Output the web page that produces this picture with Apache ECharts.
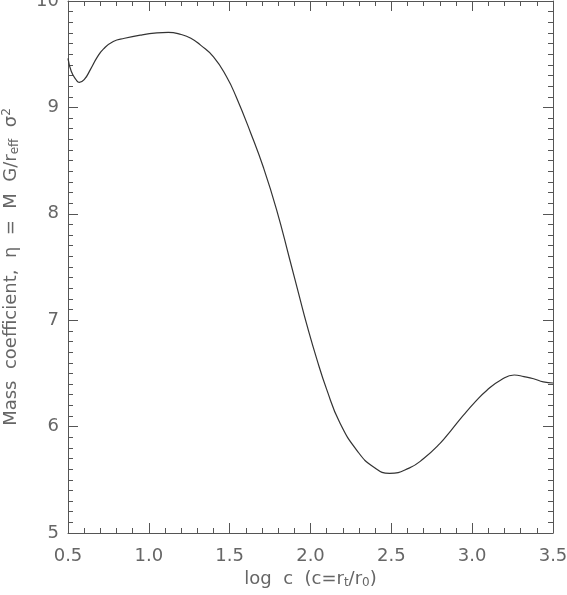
<!DOCTYPE html>
<html>
<head>
<meta charset="utf-8">
<script src="https://cdn.jsdelivr.net/npm/echarts@6/dist/echarts.min.js"></script>
<style>
  html, body { margin: 0; padding: 0; background: #fff; }
  #main { width: 567px; height: 595px; }
</style>
</head>
<body>
<div id="main"></div>
<script>
// log c values and mass coefficient eta
var logC = [0.50, 0.52, 0.55, 0.57, 0.60, 0.64, 0.68, 0.72, 0.78, 0.85,
            0.95, 1.05, 1.12, 1.20, 1.26, 1.32, 1.40, 1.48, 1.54, 1.63,
            1.71, 1.79, 1.87, 1.935, 1.975, 2.04, 2.10, 2.18, 2.29, 2.39,
            2.49, 2.61, 2.70, 2.80, 2.87, 2.945, 3.02, 3.09, 3.18, 3.26,
            3.32, 3.38, 3.44, 3.50];
var eta  = [9.46, 9.34, 9.26, 9.235, 9.26, 9.36, 9.47, 9.55, 9.62, 9.65,
            9.68, 9.70, 9.705, 9.685, 9.65, 9.585, 9.475, 9.29, 9.10, 8.76,
            8.43, 8.04, 7.58, 7.20, 6.97, 6.63, 6.35, 6.04, 5.77, 5.62,
            5.56, 5.61, 5.70, 5.84, 5.965, 6.105, 6.235, 6.34, 6.44, 6.485,
            6.47, 6.45, 6.42, 6.41];

var points = logC.map(function (x, i) { return [x, eta[i]]; });

var axisCol = '#555';
var textCol = '#666';
var font = 'DejaVu Sans';

var myChart = echarts.init(document.getElementById('main'), null, {renderer: 'canvas'});

function xAxisCfg(pos, showLabel) {
    return {
        type: 'value', position: pos, min: 0.5, max: 3.5, interval: 0.5,
        axisLine: { show: true, onZero: false, lineStyle: { color: axisCol, width: 1 } },
        axisTick: { show: true, inside: true, length: 10, lineStyle: { color: axisCol } },
        minorTick: { show: true, splitNumber: 5, length: 5, lineStyle: { color: axisCol } },
        splitLine: { show: false },
        axisLabel: {
            show: showLabel, margin: 14, color: textCol, fontFamily: font, fontSize: 18,
            formatter: function (v) { return v.toFixed(1); }
        }
    };
}

function yAxisCfg(pos, showLabel) {
    return {
        type: 'value', position: pos, min: 5, max: 10, interval: 1,
        axisLine: { show: true, onZero: false, lineStyle: { color: axisCol, width: 1 } },
        axisTick: { show: true, inside: true, length: 10, lineStyle: { color: axisCol } },
        minorTick: { show: true, splitNumber: 10, length: 5, lineStyle: { color: axisCol } },
        splitLine: { show: false },
        axisLabel: { show: showLabel, margin: 9, color: textCol, fontFamily: font, fontSize: 18 }
    };
}

var xBottom = xAxisCfg('bottom', true);
xBottom.name = 'log  c  (c=r{sub|t}/r{sub|0})';
xBottom.nameLocation = 'middle';
xBottom.nameGap = 34;
xBottom.nameTextStyle = {
    color: textCol, fontFamily: font, fontSize: 18,
    rich: { sub: { fontSize: 12, verticalAlign: 'bottom', padding: [8, 0, 0, 0], color: textCol, fontFamily: font } }
};

var yLeft = yAxisCfg('left', true);
yLeft.name = 'Mass  coefficient,  \u03b7  =  M  G/r{sub|eff}  \u03c3{sup|2}';
yLeft.nameLocation = 'middle';
yLeft.nameGap = 47;
yLeft.nameRotate = 90;
yLeft.nameTextStyle = {
    color: textCol, fontFamily: font, fontSize: 18,
    rich: {
        sub: { fontSize: 12, verticalAlign: 'bottom', padding: [8, 0, 0, 0], color: textCol, fontFamily: font },
        sup: { fontSize: 12, verticalAlign: 'top', padding: [0, 0, 8, 0], color: textCol, fontFamily: font }
    }
};

var option = {
    backgroundColor: '#fff',
    animation: false,
    grid: { left: 68, right: 14, top: 1, bottom: 62, containLabel: false, outerBoundsMode: 'none' },
    xAxis: [xBottom, xAxisCfg('top', false)],
    yAxis: [yLeft, yAxisCfg('right', false)],
    series: [{
        type: 'line',
        data: points,
        smooth: 0.5,
        showSymbol: false,
        clip: false,
        lineStyle: { color: '#333', width: 1.2 }
    }]
};

myChart.setOption(option);
</script>
</body>
</html>
